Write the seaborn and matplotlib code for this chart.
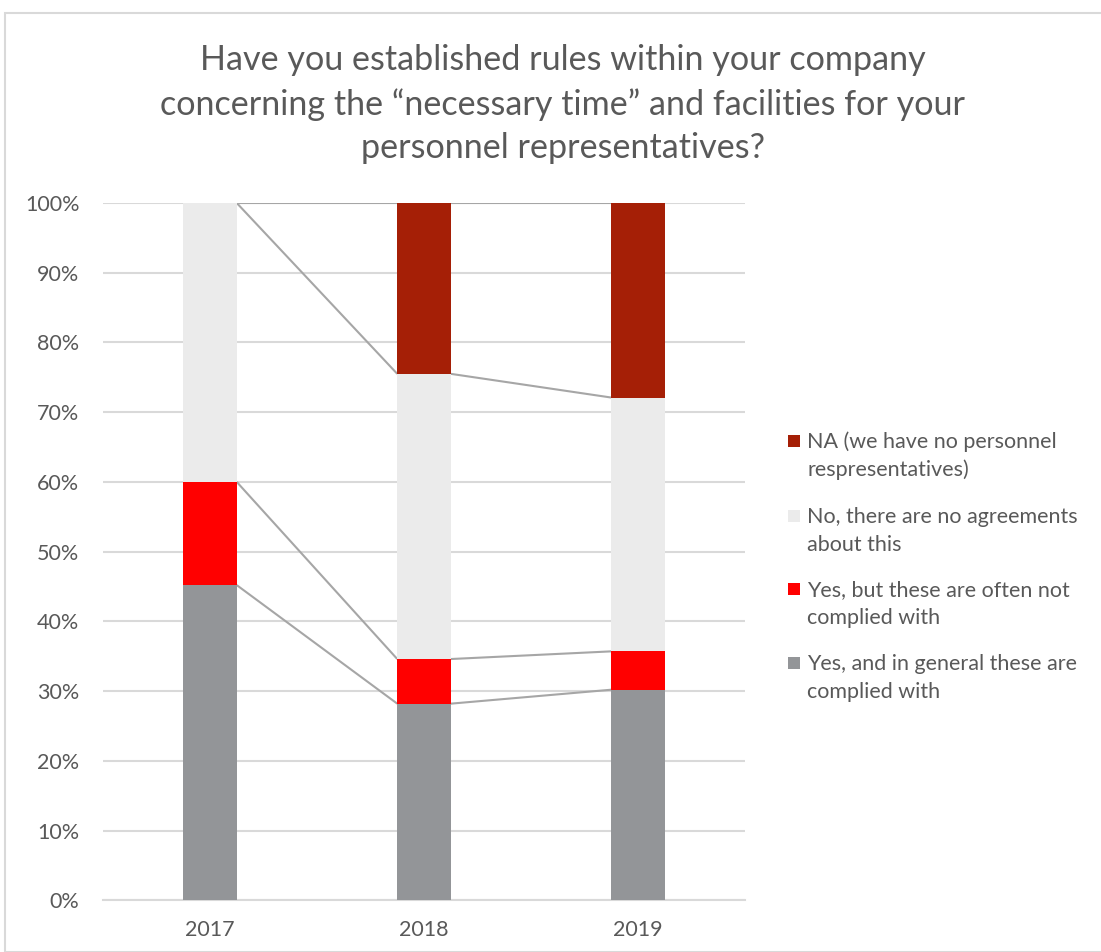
import numpy as np
import pandas as pd
import matplotlib
matplotlib.use("Agg")
import matplotlib.pyplot as plt
from matplotlib.patches import Rectangle
import seaborn as sns

years = ["2017", "2018", "2019"]
series_names = [
    "Yes, and in general these are\ncomplied with",
    "Yes, but these are often not\ncomplied with",
    "No, there are no agreements\nabout this",
    "NA (we have no personnel\nrespresentatives)",
]
yes_complied = [45.2, 28.2, 30.2]
yes_not_complied = [14.8, 6.4, 5.5]
no_agreements = [40.0, 40.9, 36.4]
not_applicable = [0.0, 24.5, 27.9]
series_colors = ["#939598", "#ff0000", "#ebebeb", "#a51f06"]
title = ("Have you established rules within your company\n"
         "concerning the \u201cnecessary time\u201d and facilities for your\n"
         "personnel representatives?")

sns.set_theme(style="white")
plt.rcParams["font.family"] = ["Lato", "DejaVu Sans"]
text_color = "#595959"

values = np.array([yes_complied, yes_not_complied, no_agreements, not_applicable])
cumulative = np.cumsum(values, axis=0)

W, H = 1101, 952
fig = plt.figure(figsize=(W / 100, H / 100), dpi=100)
fig.patch.set_facecolor("white")
fig.patches.append(Rectangle((5 / W, 0), 1.2, 1 - 13 / H, transform=fig.transFigure,
                             fill=False, edgecolor="#d9d9d9", linewidth=1.5))

ax = fig.add_axes([103 / W, 1 - 900.3 / H, (745 - 103) / W, (900.3 - 203) / H])

# stacked bars: draw cumulative totals from the top series down
for i in range(len(series_names) - 1, -1, -1):
    df = pd.DataFrame({"year": years, "value": cumulative[i]})
    sns.barplot(data=df, x="year", y="value", color=series_colors[i], width=0.25,
                saturation=1, ax=ax, zorder=3, linewidth=0)

# series connector lines between neighbouring bars
half = 0.125
for i in range(len(series_names)):
    for j in range(len(years) - 1):
        ax.plot([j + half, j + 1 - half], [cumulative[i][j], cumulative[i][j + 1]],
                color="#a6a6a6", linewidth=1.5, zorder=2, solid_capstyle="butt")

ax.set_xlim(-0.5, 2.5)
ax.set_ylim(0, 100)
ax.set_yticks(np.arange(0, 101, 10))
ax.set_yticklabels([f"{v}%" for v in range(0, 101, 10)])
ax.yaxis.grid(True, color="#d9d9d9", linewidth=1.5, zorder=0)
ax.set_axisbelow(True)
for s in ["top", "right", "left"]:
    ax.spines[s].set_visible(False)
ax.spines["bottom"].set_color("#d9d9d9")
ax.spines["bottom"].set_linewidth(1.5)
ax.set_xlabel("")
ax.set_ylabel("")
ax.tick_params(axis="both", length=0, labelsize=15.5, labelcolor=text_color)
ax.tick_params(axis="y", pad=17)
ax.tick_params(axis="x", pad=14)

fig.text(563 / W, 1 - 104 / H, title, ha="center", va="center", fontsize=24.6,
         color=text_color, linespacing=1.45)

# legend: squares with two-line labels, top series first
legend_centers = [456, 531, 604, 678]
for k, i in enumerate(range(len(series_names) - 1, -1, -1)):
    yc = legend_centers[k]
    fig.patches.append(Rectangle((788 / W, 1 - (yc - 15 + 6) / H), 12 / W, 12 / H,
                                 transform=fig.transFigure, facecolor=series_colors[i],
                                 edgecolor="none"))
    fig.text(807 / W, 1 - yc / H, series_names[i], ha="left", va="center",
             fontsize=15.5, color=text_color, linespacing=1.45)

fig.savefig("out.png", dpi=100, facecolor="white")
